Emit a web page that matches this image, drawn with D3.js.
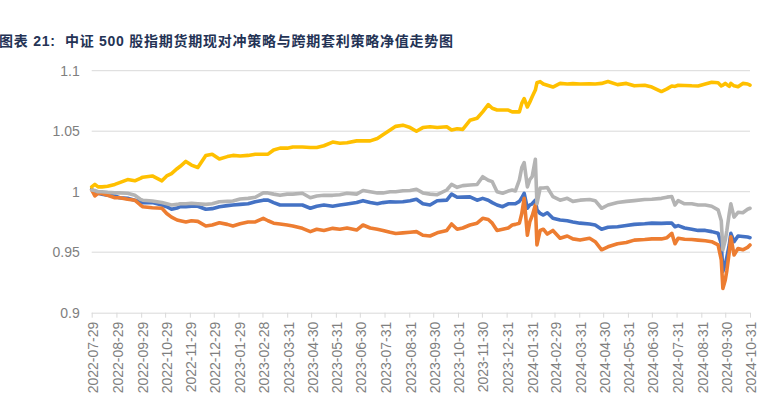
<!DOCTYPE html>
<html><head><meta charset="utf-8">
<script src="https://cdn.jsdelivr.net/npm/d3@7"></script>
<style>
html,body{margin:0;padding:0;background:#fff;}
svg{display:block;}
</style></head>
<body>
<svg id="chart" width="775" height="394"></svg>
<script>
const title = "图表 21:  中证 500 股指期货期现对冲策略与跨期套利策略净值走势图";

const dates = ["2022-07-29","2022-08-02","2022-08-06","2022-08-11","2022-08-18","2022-08-27","2022-09-02","2022-09-12","2022-09-21","2022-09-28",
"2022-10-01","2022-10-13","2022-10-25","2022-10-31","2022-11-06","2022-11-13","2022-11-17","2022-11-24","2022-12-01","2022-12-09",
"2022-12-19","2022-12-27","2023-01-05","2023-01-15","2023-01-22","2023-01-31","2023-02-10","2023-02-19","2023-03-01","2023-03-07",
"2023-03-14","2023-03-22","2023-03-31","2023-04-07","2023-04-19","2023-04-29","2023-05-07","2023-05-16","2023-05-27","2023-06-05",
"2023-06-14","2023-06-26","2023-07-04","2023-07-13","2023-07-22","2023-07-29","2023-08-07","2023-08-14","2023-08-23","2023-09-01",
"2023-09-09","2023-09-17","2023-09-26","2023-10-05","2023-10-17","2023-10-23","2023-10-30","2023-11-06","2023-11-15","2023-11-24",
"2023-12-01","2023-12-08","2023-12-13","2023-12-19","2023-12-26","2024-01-02","2024-01-07","2024-01-11","2024-01-16","2024-01-19",
"2024-01-22","2024-01-26","2024-01-29","2024-02-01","2024-02-05","2024-02-07","2024-02-11","2024-02-15","2024-02-20","2024-02-27",
"2024-03-07","2024-03-16","2024-03-23","2024-04-01","2024-04-13","2024-04-20","2024-04-28","2024-05-06","2024-05-18","2024-05-29",
"2024-06-08","2024-06-21","2024-06-30","2024-07-12","2024-07-19","2024-07-25","2024-07-29","2024-08-02","2024-08-10","2024-08-19",
"2024-08-27","2024-09-05","2024-09-13","2024-09-21","2024-09-25","2024-09-27","2024-09-30","2024-10-02","2024-10-05","2024-10-07",
"2024-10-11","2024-10-16","2024-10-22","2024-10-28","2024-10-31"];

const blueSeries = [1.002,0.9995,0.9987,0.998,0.997,0.9965,0.995,0.9945,0.993,0.9917,
0.991,0.991,0.989,0.9876,0.9855,0.9865,0.9876,0.9876,0.988,0.988,
0.9855,0.986,0.9876,0.9885,0.989,0.9895,0.990,0.9917,0.993,0.993,
0.991,0.989,0.989,0.989,0.989,0.9863,0.988,0.989,0.988,0.989,
0.9898,0.991,0.9926,0.991,0.990,0.991,0.9917,0.9915,0.9917,0.9925,
0.9937,0.990,0.989,0.9925,0.993,0.998,0.9954,0.9955,0.9957,0.993,
0.9945,0.993,0.991,0.989,0.9876,0.990,0.990,0.990,0.992,0.995,
0.9987,0.9863,0.989,0.990,0.993,0.985,0.982,0.9807,0.9826,0.978,
0.9766,0.976,0.975,0.974,0.9733,0.9725,0.969,0.9706,0.971,0.972,
0.973,0.9735,0.974,0.9738,0.974,0.974,0.971,0.972,0.970,0.969,
0.968,0.968,0.967,0.9656,0.957,0.934,0.940,0.946,0.956,0.9656,
0.9587,0.9634,0.963,0.9625,0.962];

const orangeSeries = [1.0014,0.9965,0.9987,0.9985,0.997,0.995,0.995,0.9937,0.993,0.989,
0.9876,0.9868,0.9863,0.982,0.979,0.9766,0.976,0.975,0.976,0.9755,
0.9717,0.9725,0.9744,0.973,0.9717,0.9735,0.975,0.975,0.978,0.976,
0.974,0.9733,0.9725,0.9717,0.9697,0.967,0.969,0.968,0.9697,0.969,
0.970,0.9683,0.9725,0.970,0.969,0.968,0.9665,0.9655,0.966,0.9665,
0.967,0.964,0.9634,0.966,0.968,0.9733,0.969,0.970,0.9725,0.974,
0.978,0.977,0.974,0.968,0.969,0.970,0.9725,0.973,0.974,0.982,
0.9945,0.964,0.975,0.980,0.989,0.956,0.968,0.969,0.965,0.968,
0.9615,0.9634,0.961,0.960,0.9615,0.9587,0.952,0.9545,0.957,0.958,
0.960,0.9605,0.961,0.961,0.962,0.9656,0.957,0.9615,0.9607,0.9605,
0.960,0.9595,0.9587,0.956,0.9436,0.920,0.927,0.935,0.950,0.9628,
0.9477,0.953,0.952,0.954,0.956];

const graySeries = [1.0014,1.001,1.000,1.000,0.9995,0.999,0.999,0.9987,0.997,0.9937,
0.993,0.9923,0.991,0.990,0.989,0.9895,0.990,0.990,0.9905,0.990,
0.9895,0.990,0.9917,0.992,0.9923,0.994,0.9945,0.9954,0.999,0.999,
0.998,0.997,0.998,0.998,0.9987,0.995,0.9964,0.997,0.997,0.9975,
0.9987,0.998,1.001,1.000,0.999,0.999,1.000,1.000,1.0008,1.001,
1.002,0.999,0.998,0.9975,1.0014,1.006,1.0036,1.005,1.0055,1.006,
1.0124,1.0095,1.0083,1.000,0.9987,1.0005,1.0014,1.0006,1.0097,1.020,
1.024,1.004,1.010,1.0124,1.0268,0.990,1.003,1.003,1.0035,0.9959,
0.993,0.9945,0.992,0.993,0.9935,0.9926,0.9863,0.989,0.991,0.992,
0.9926,0.9935,0.9937,0.9945,0.9955,0.996,0.989,0.9926,0.990,0.990,
0.989,0.989,0.988,0.985,0.976,0.952,0.960,0.968,0.982,0.990,
0.979,0.983,0.9826,0.9855,0.9863];

const yellowSeries = [1.004,1.006,1.004,1.004,1.0045,1.006,1.0075,1.010,1.009,1.011,
1.012,1.013,1.009,1.013,1.015,1.019,1.021,1.025,1.022,1.020,
1.030,1.031,1.027,1.029,1.030,1.0295,1.030,1.031,1.031,1.031,
1.0345,1.036,1.036,1.037,1.037,1.0365,1.0365,1.038,1.041,1.040,
1.0405,1.042,1.042,1.042,1.044,1.047,1.051,1.054,1.055,1.053,
1.050,1.053,1.0537,1.053,1.0537,1.051,1.052,1.0515,1.059,1.0607,
1.066,1.072,1.069,1.0675,1.0675,1.0675,1.066,1.066,1.066,1.073,
1.077,1.070,1.074,1.0785,1.084,1.090,1.091,1.089,1.088,1.0865,
1.0895,1.089,1.0893,1.089,1.0892,1.089,1.0895,1.091,1.0885,1.0895,
1.0875,1.088,1.0865,1.0828,1.085,1.0874,1.087,1.088,1.0878,1.0875,
1.0874,1.089,1.0905,1.090,1.0874,1.088,1.0896,1.0885,1.087,1.0895,
1.0875,1.0868,1.0895,1.089,1.088];

const xTickLabels = ["2022-07-29","2022-08-29","2022-09-29","2022-10-29","2022-11-29","2022-12-29",
"2023-01-29","2023-02-28","2023-03-31","2023-04-30","2023-05-31","2023-06-30","2023-07-31","2023-08-31",
"2023-09-30","2023-10-31","2023-11-30","2023-12-31","2024-01-31","2024-02-29","2024-03-31","2024-04-30",
"2024-05-31","2024-06-30","2024-07-31","2024-08-31","2024-09-30","2024-10-31"];
const yTicks = [0.9, 0.95, 1, 1.05, 1.1];

const seriesList = [
  {values: blueSeries, color: "#4472C4"},
  {values: orangeSeries, color: "#ED7D31"},
  {values: graySeries, color: "#B4B4B4"},
  {values: yellowSeries, color: "#FFC000"}
];

const parse = d3.utcParse("%Y-%m-%d");
const fmt = d3.utcFormat("%Y-%m-%d");
const dateObjs = dates.map(parse);
const tickDates = xTickLabels.map(parse);

const svg = d3.select("#chart");
const plotL = 91.7, plotR = 750, plotT = 70.7, plotB = 312.7;

const x = d3.scaleUtc().domain([parse("2022-07-29"), parse("2024-10-31")]).range([plotL, plotR]);
const y = d3.scaleLinear().domain([0.9, 1.1]).range([plotB, plotT]);

svg.append("text")
  .attr("x", -1).attr("y", 46)
  .attr("font-family", "'Liberation Sans', Arial, 'Noto Sans CJK SC', sans-serif")
  .attr("font-size", 14).attr("font-weight", "bold")
  .attr("fill", "#243355")
  .style("letter-spacing", "0.75px")
  .style("white-space", "pre")
  .text(title);

// gridlines
svg.append("g").selectAll("line").data(yTicks.filter(v => v > 0.9)).join("line")
  .attr("x1", plotL).attr("x2", plotR)
  .attr("y1", d => y(d)).attr("y2", d => y(d))
  .attr("stroke", "#D9D9D9").attr("stroke-width", 1);

// y axis labels
const yAxis = d3.axisLeft(y).tickValues(yTicks).tickSize(0).tickPadding(12).tickFormat(d => String(d));
const gy = svg.append("g").attr("transform", `translate(${plotL},0)`).call(yAxis);
gy.select(".domain").remove();
gy.selectAll("text")
  .attr("font-family", "'Liberation Sans', Arial, sans-serif")
  .attr("font-size", 14).attr("fill", "#7F7F7F");

// x axis
const xAxis = d3.axisBottom(x).tickValues(tickDates).tickSize(5).tickSizeOuter(0).tickFormat(d => fmt(d));
const gx = svg.append("g").attr("transform", `translate(0,${plotB})`).call(xAxis);
gx.select(".domain").attr("stroke", "#D9D9D9").attr("d", `M${plotL},0.5H${plotR}`);
gx.selectAll(".tick line").attr("stroke", "#D9D9D9");
gx.selectAll("text")
  .attr("font-family", "'Liberation Sans', Arial, sans-serif")
  .attr("font-size", 14).attr("fill", "#7F7F7F")
  .attr("text-anchor", "end")
  .attr("transform", "rotate(-90)")
  .attr("x", -9).attr("y", 0).attr("dy", "0.42em");

// lines
const line = d3.line().x((d, i) => x(dateObjs[i])).y(d => y(d));
svg.append("g").selectAll("path").data(seriesList).join("path")
  .attr("d", s => line(s.values))
  .attr("fill", "none")
  .attr("stroke", s => s.color)
  .attr("stroke-width", 3.6)
  .attr("stroke-linejoin", "round")
  .attr("stroke-linecap", "round");
</script>
</body></html>
